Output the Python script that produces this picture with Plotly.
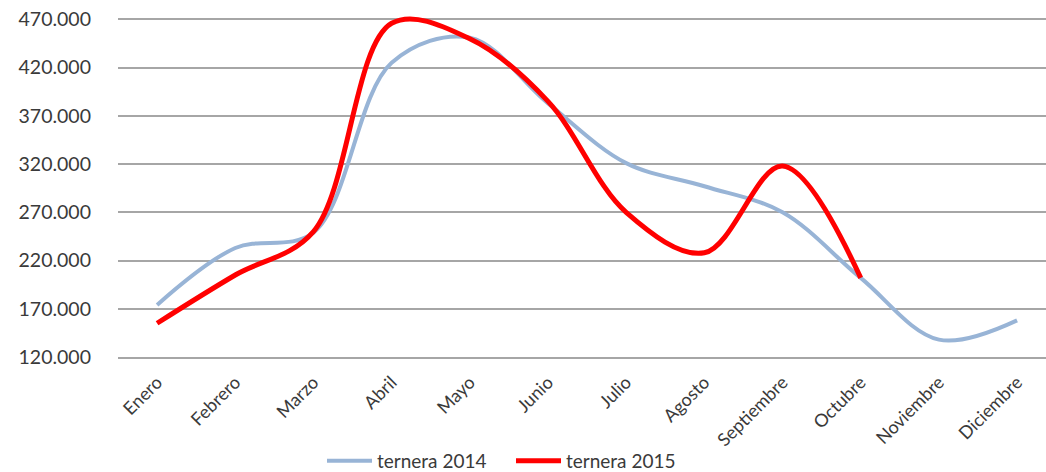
import plotly.graph_objects as go

months = ["Enero", "Febrero", "Marzo", "Abril", "Mayo", "Junio", "Julio",
          "Agosto", "Septiembre", "Octubre", "Noviembre", "Diciembre"]
ternera_2014 = [174000, 233000, 249000, 425000, 451000, 383000, 321000,
                297000, 270000, 202000, 138000, 158000]
ternera_2015 = [155000, 205000, 250000, 466000, 450000, 385000, 270000,
                228000, 318000, 202000]
y_ticks = [120000, 170000, 220000, 270000, 320000, 370000, 420000, 470000]
y_tick_text = ["120.000", "170.000", "220.000", "270.000", "320.000",
               "370.000", "420.000", "470.000"]

FONT = "Lato"
TXT = "#3a3a3a"
GRID = "#a6a6a6"

fig = go.Figure()
fig.add_trace(go.Scatter(
    x=months, y=ternera_2014, mode="lines", name="ternera 2014",
    line=dict(color="#98b4d6", width=4, shape="spline", smoothing=1.0),
))
fig.add_trace(go.Scatter(
    x=months[:len(ternera_2015)], y=ternera_2015, mode="lines", name="ternera 2015",
    line=dict(color="#ff0000", width=5, shape="spline", smoothing=1.0),
))

fig.update_layout(
    width=1046, height=472,
    margin=dict(l=118, r=0, t=3, b=115, autoexpand=False),
    paper_bgcolor="white", plot_bgcolor="white",
    font=dict(family=FONT, color=TXT, size=19),
    showlegend=True,
    legend=dict(orientation="h", xref="container", yref="container",
                x=322 / 1046, xanchor="left", y=11 / 472, yanchor="middle",
                itemwidth=45, entrywidth=129,
                font=dict(family=FONT, size=19, color=TXT),
                bgcolor="rgba(0,0,0,0)"),
    xaxis=dict(
        type="category", categoryorder="array", categoryarray=months,
        range=[-0.5, 11.37], automargin=False,
        showgrid=False, zeroline=False,
        showline=True, linecolor=GRID, linewidth=1.5,
        tickangle=-45, ticks="", ticklabelstandoff=6,
        tickfont=dict(family=FONT, size=18, color=TXT),
    ),
    yaxis=dict(
        range=[120000, 487000], automargin=False,
        tickvals=y_ticks, ticktext=y_tick_text,
        showgrid=True, gridcolor=GRID, gridwidth=1.5,
        zeroline=False, showline=False, ticks="",
        ticklabelstandoff=26,
        tickfont=dict(family=FONT, size=19.5, color=TXT),
    ),
)

fig.write_html(
    "out.html",
    config={"displayModeBar": False},
    post_script="document.body.style.margin='0';document.body.style.overflow='hidden';",
)
